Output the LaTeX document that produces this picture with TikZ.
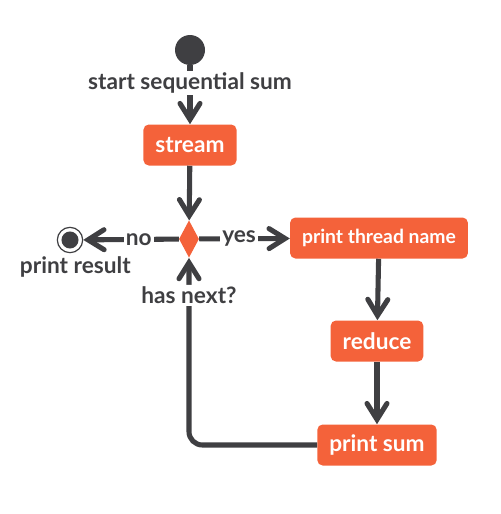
\documentclass[tikz,border=0pt]{standalone}
\usepackage{fontspec}
\setmainfont{Lato}
\usetikzlibrary{shapes.geometric, arrows.meta}
\definecolor{actorange}{HTML}{F4623A}
\definecolor{flowgray}{HTML}{3F3F42}
\begin{document}
\begin{tikzpicture}[x=0.75pt, y=-0.75pt,
    every node/.style={font=\fontsize{17}{20}\selectfont\bfseries, text=flowgray},
    action/.style={rectangle, rounded corners=4pt, fill=actorange, text=white,
        minimum height=30.75pt, inner xsep=9pt},
    flow/.style={line width=3.8pt, flowgray, -{Straight Barb[length=12pt, width=15pt, line cap=round]}},
    loopline/.style={line width=3.8pt, flowgray, rounded corners=10pt, -{Straight Barb[length=12pt, width=15pt, line cap=round]}},
    guard/.style={fill=white, inner sep=1.5pt}]
    \useasboundingbox (0,0) rectangle (500,514);

    % Início e fim
    \node[circle, fill=flowgray, minimum size=22.5pt, inner sep=0pt] (start) at (190,50) {};
    \node[circle, draw=flowgray, line width=0.9pt, minimum size=19pt, inner sep=0pt,
        label={[yshift=1pt, xshift=4pt]below:print result}] (done) at (70,240) {};
    \fill[flowgray] (done.center) circle (6.4pt);

    % Ações
    \node[action] (stream) at (190,145) {stream};
    \node[action, font=\fontsize{14.5}{17}\selectfont\bfseries] (thread) at (379,238) {print thread name};
    \node[action] (reduce) at (377,341) {reduce};
    \node[action] (printsum) at (377,445) {print sum};

    % Decisão
    \node[diamond, fill=actorange, minimum width=15pt, minimum height=28pt, inner sep=0pt] (branch) at (189,239) {};

    % Fluxo principal
    \draw[flow] (start) -- node[guard, pos=0.3] {start sequential sum} (stream);
    \draw[flow] (stream) -- (branch);
    \draw[flow] (branch) -- node[guard, pos=0.42] {no} (done);
    \draw[flow] (branch) -- node[guard, pos=0.44] {yes} (thread);
    \draw[flow] (thread) -- (reduce);
    \draw[flow] (reduce) -- (printsum);

    % Volta para a decisão
    \draw[loopline] (printsum.west) -| node[guard, pos=0.9] {has next?} (branch.south);
\end{tikzpicture}
\end{document}
